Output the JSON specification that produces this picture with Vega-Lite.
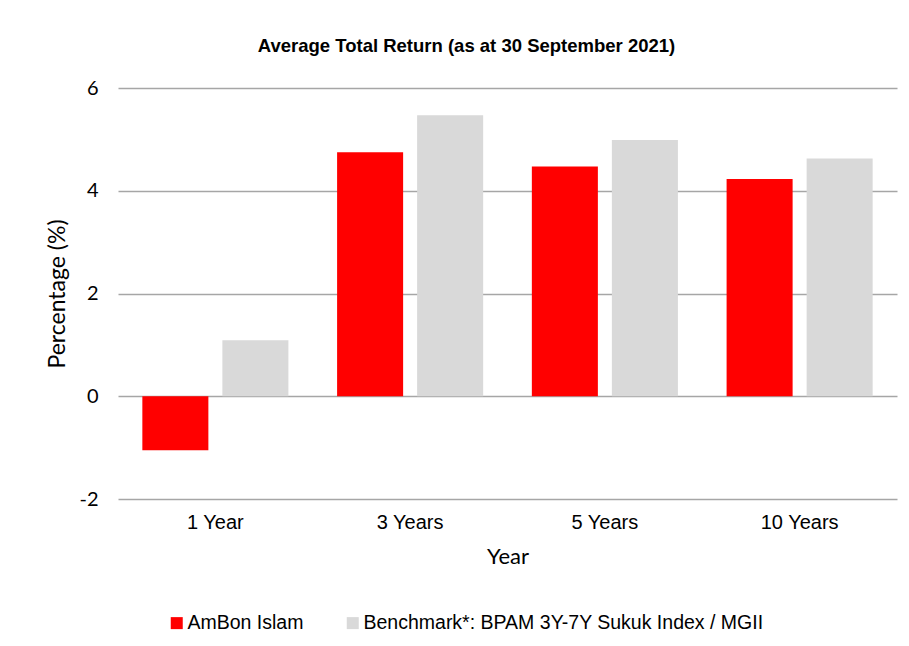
{
  "$schema": "https://vega.github.io/schema/vega-lite/v6.json",
  "autosize": {"type": "none"},
  "width": 779,
  "height": 411,
  "padding": {"left": 118, "top": 88, "right": 12, "bottom": 147},
  "background": "white",
  "title": {
    "text": "Average Total Return (as at 30 September 2021)",
    "font": "Liberation Sans",
    "fontSize": 18.5,
    "fontWeight": "bold",
    "color": "#000000",
    "anchor": "middle",
    "dx": -41,
    "offset": 23
  },
  "data": {
    "values": [
      {"period": "1 Year", "series": "AmBon Islam", "value": -1.05},
      {"period": "1 Year", "series": "Benchmark*: BPAM 3Y-7Y Sukuk Index / MGII", "value": 1.09},
      {"period": "3 Years", "series": "AmBon Islam", "value": 4.75},
      {"period": "3 Years", "series": "Benchmark*: BPAM 3Y-7Y Sukuk Index / MGII", "value": 5.47},
      {"period": "5 Years", "series": "AmBon Islam", "value": 4.47},
      {"period": "5 Years", "series": "Benchmark*: BPAM 3Y-7Y Sukuk Index / MGII", "value": 4.99},
      {"period": "10 Years", "series": "AmBon Islam", "value": 4.23},
      {"period": "10 Years", "series": "Benchmark*: BPAM 3Y-7Y Sukuk Index / MGII", "value": 4.63}
    ]
  },
  "mark": {"type": "bar"},
  "encoding": {
    "x": {
      "field": "period",
      "type": "nominal",
      "sort": ["1 Year", "3 Years", "5 Years", "10 Years"],
      "scale": {"paddingInner": 0.25, "paddingOuter": 0.125},
      "axis": {
        "title": "Year",
        "titleFont": "Lato",
        "titleFontSize": 22,
        "titleFontWeight": "normal",
        "titleColor": "#000000",
        "titlePadding": 14,
        "labelFont": "Liberation Sans",
        "labelFontSize": 20,
        "labelColor": "#000000",
        "labelAngle": 0,
        "labelPadding": 13,
        "domain": false,
        "ticks": false,
        "grid": false
      }
    },
    "xOffset": {
      "field": "series",
      "type": "nominal",
      "scale": {"paddingInner": 0.175, "paddingOuter": 0}
    },
    "y": {
      "field": "value",
      "type": "quantitative",
      "scale": {"domain": [-2, 6], "nice": false, "zero": false},
      "axis": {
        "title": "Percentage (%)",
        "titleFont": "Lato",
        "titleFontSize": 23,
        "titleFontWeight": "normal",
        "titleColor": "#000000",
        "titlePadding": 9,
        "values": [-2, 0, 2, 4, 6],
        "labelExpr": "datum.value < 0 ? '-' + abs(datum.value) : '' + datum.value",
        "labelFont": "Lato",
        "labelFontSize": 20,
        "labelColor": "#000000",
        "labelPadding": 20,
        "domain": false,
        "ticks": false,
        "grid": true,
        "gridColor": "#a6a6a6",
        "gridWidth": 1.3
      }
    },
    "color": {
      "field": "series",
      "type": "nominal",
      "scale": {
        "domain": ["AmBon Islam", "Benchmark*: BPAM 3Y-7Y Sukuk Index / MGII"],
        "range": ["#ff0000", "#d9d9d9"]
      },
      "legend": {
        "title": null,
        "orient": "none",
        "direction": "horizontal",
        "legendX": 49,
        "legendY": 525,
        "symbolType": "square",
        "symbolSize": 144,
        "symbolStrokeWidth": 0,
        "symbolOpacity": 1,
        "labelFont": "Liberation Sans",
        "labelFontSize": 19.5,
        "labelColor": "#000000",
        "labelOffset": 1,
        "labelLimit": 600,
        "columnPadding": 39
      }
    }
  },
  "config": {
    "view": {"stroke": null}
  }
}
